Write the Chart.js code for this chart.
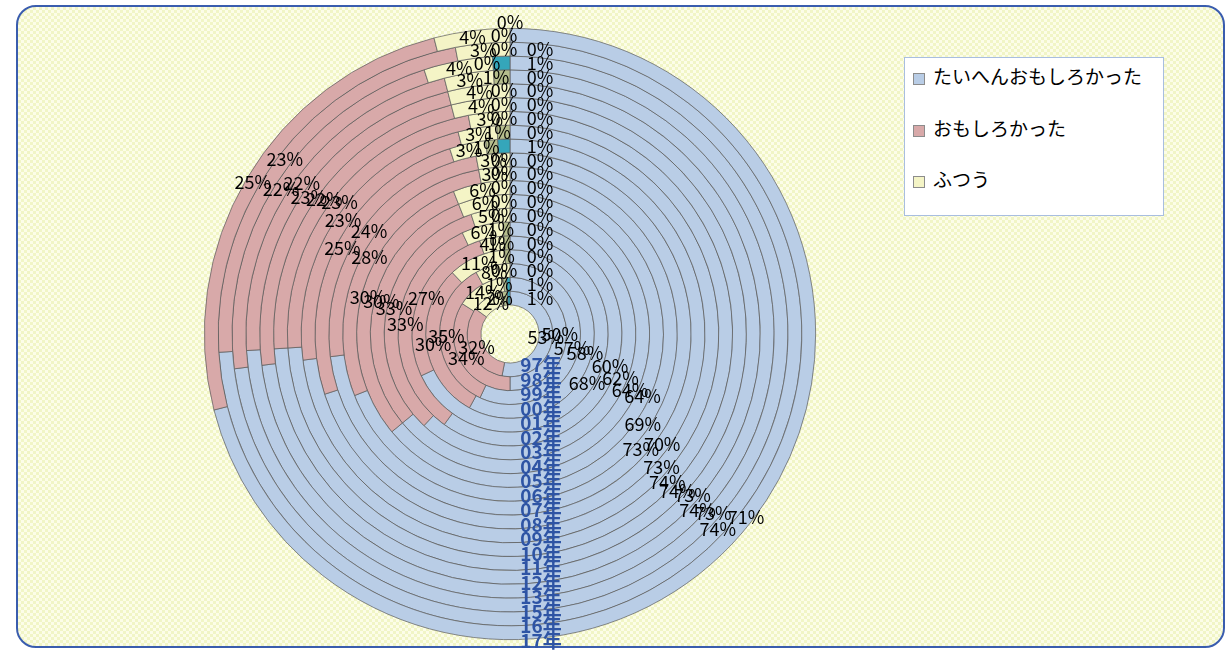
<!DOCTYPE html>
<html>
<head>
<meta charset="utf-8">
<script src="https://cdn.jsdelivr.net/npm/chart.js@4.4.1/dist/chart.umd.min.js"></script>
<style>
html, body { margin: 0; padding: 0; }
body { width: 1227px; height: 650px; overflow: hidden; position: relative; background: #fff; }
#frame {
    position: absolute; left: 16px; top: 5px; width: 1205px; height: 639px;
    border: 2px solid #3a5dae; border-radius: 20px;
    background: repeating-conic-gradient(#f1f5c6 0 25%, #fcfde8 0 50%) 0 0 / 6px 6px;
}
#c { position: absolute; left: 0; top: 0; }
#legend {
    position: absolute; left: 904px; top: 57px; width: 258px; height: 157px;
    border: 1px solid #a8bee0; background: #fff;
    font-family: "Noto Sans CJK JP", "Noto Sans", sans-serif; font-size: 19px; color: #000;
}
#legend .item { position: absolute; left: 8px; height: 24px; line-height: 24px; white-space: nowrap; }
#legend .box {
    display: inline-block; width: 10px; height: 10px; border: 1px solid #8c8c8c;
    margin-right: 8px; vertical-align: -1px;
}
</style>
</head>
<body>
<div id="frame"></div>
<canvas id="c" width="1227" height="650"></canvas>
<div id="legend"></div>
<script>
// rings from inside (97年) to outside (17年)
var years = ['97年', '98年', '99年', '00年', '01年', '02年', '03年', '04年', '05年', '06年',
    '07年', '08年', '09年', '10年', '11年', '12年', '13年', '15年', '16年', '17年'];
var categories = ['たいへんおもしろかった', 'おもしろかった', 'ふつう', 'あまりおもしろくなかった', 'つまらなかった'];
var veryFun = [53, 50, 57, 58, 68, 60, 62, 64, 64, 69, 73, 70, 73, 74, 74, 73, 74, 73, 74, 71];
var fun = [32, 34, 35, 30, 27, 33, 33, 30, 30, 28, 24, 25, 23, 23, 22, 23, 22, 22, 23, 25];
var normal = [12, 14, 8, 11, 4, 6, 5, 6, 6, 3, 3, 3, 3, 3, 4, 4, 3, 4, 3, 4];
var notMuch = [2, 1, 0, 1, 1, 1, 0, 0, 0, 0, 0, 1, 1, 0, 0, 0, 1, 0, 0, 0];
var boring = [1, 1, 0, 0, 0, 0, 0, 0, 0, 0, 0, 1, 0, 0, 0, 0, 0, 1, 0, 0];
var colors = ['#b9cde6', '#d8a9a9', '#f4f4c6', '#b5bd8c', '#35a6ba'];

// Chart.js puts the first dataset outermost
var datasets = [];
for (var k = years.length - 1; k >= 0; k--) {
    datasets.push({
        label: years[k],
        data: [veryFun[k], fun[k], normal[k], notMuch[k], boring[k]],
        backgroundColor: colors,
        borderColor: '#5a5a5a',
        borderWidth: 0.7
    });
}

var ringLabels = {
    id: 'ringLabels',
    afterDatasetsDraw: function (chart) {
        var ctx = chart.ctx;
        ctx.save();
        ctx.textAlign = 'center';
        ctx.textBaseline = 'middle';
        ctx.font = '18px "Noto Sans CJK JP"';
        ctx.fillStyle = '#000';
        var yearPos = [];
        var n = chart.data.datasets.length;
        chart.data.datasets.forEach(function (ds, di) {
            var meta = chart.getDatasetMeta(di);
            meta.data.forEach(function (arc, i) {
                var p = arc.getProps(['x', 'y', 'startAngle', 'endAngle', 'innerRadius', 'outerRadius'], true);
                var mid = (p.startAngle + p.endAngle) / 2;
                var r = (p.innerRadius + p.outerRadius) / 2;
                var x = p.x + Math.cos(mid) * r;
                var y = p.y + Math.sin(mid) * r;
                if (i === 3) {
                    x -= 6;
                }
                if (i === 4) {
                    x = p.x + 30;
                    y = p.y - r;
                    if (di === 0) {
                        x = p.x;
                        y = p.y - p.outerRadius - 6;
                    }
                }
                ctx.fillText(ds.data[i] + '%', x, y);
                if (i === 0) {
                    var step = n - 1 - di;
                    yearPos.push([p.x + 31, p.y + 31 + step * 14.5, ds.label]);
                }
            });
        });
        ctx.font = 'bold 19px "Noto Sans CJK JP"';
        ctx.fillStyle = '#2e54a4';
        yearPos.reverse().forEach(function (t) {
            ctx.fillText(t[2], t[0], t[1]);
        });
        ctx.restore();
    }
};

new Chart(document.getElementById('c').getContext('2d'), {
    type: 'doughnut',
    data: { labels: categories, datasets: datasets },
    options: {
        responsive: false,
        animation: false,
        events: [],
        cutout: '9.5%',
        layout: { padding: { left: 204, right: 411, top: 28, bottom: 10 } },
        plugins: {
            legend: { display: false },
            tooltip: { enabled: false }
        }
    },
    plugins: [ringLabels]
});

var legend = document.getElementById('legend');
var tops = [6, 58, 109];
for (var j = 0; j < 3; j++) {
    var item = document.createElement('div');
    item.className = 'item';
    item.style.top = tops[j] + 'px';
    item.innerHTML = '<span class="box" style="background:' + colors[j] + '"></span>' + categories[j];
    legend.appendChild(item);
}
</script>
</body>
</html>
